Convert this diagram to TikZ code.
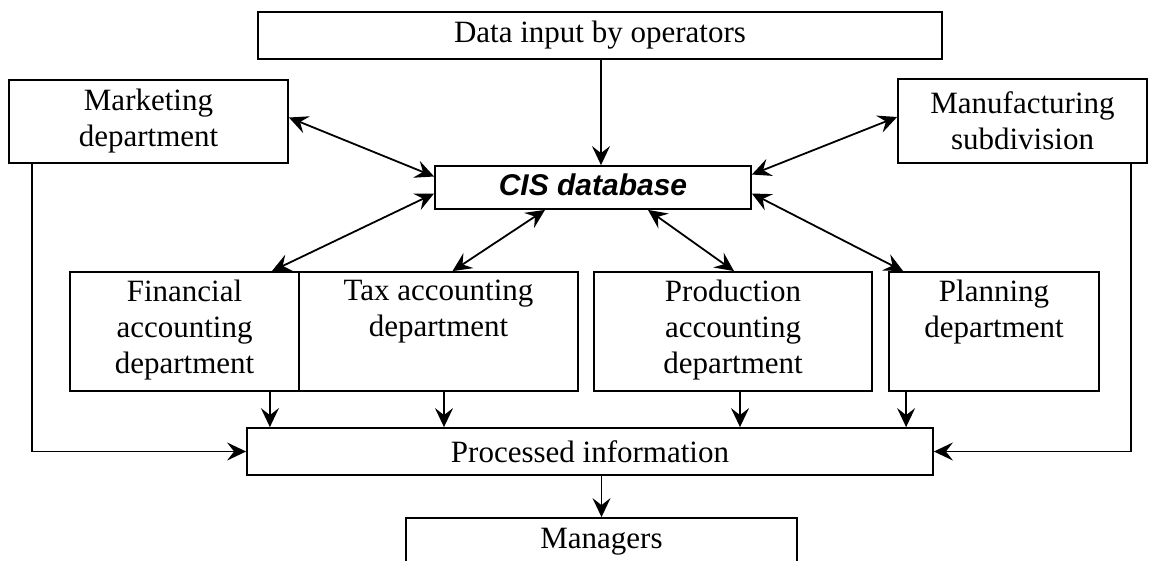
\documentclass[tikz,border=0pt]{standalone}
\usepackage{fontspec}
\setmainfont{Liberation Serif}
\newfontfamily\cisfont{Liberation Sans}
\usetikzlibrary{arrows.meta,calc}

\tikzset{
  tip/.tip={Stealth[length=19pt,width=18pt,inset=7pt]},
  box/.style={draw, line width=1.8pt, inner sep=0pt, align=center,
    font=\fontsize{31}{36}\selectfont},
  lbl/.style={anchor=north, inner sep=0pt, align=center,
    font=\fontsize{31}{36}\selectfont},
  link/.style={line width=1.8pt, -tip},
  both/.style={line width=1.8pt, tip-tip},
}

\begin{document}
\begin{tikzpicture}[x=1pt,y=-1pt]
\useasboundingbox (0,0) rectangle (1150,560);

% boxes
\node[box, minimum width=684, minimum height=47] (data) at (600,35.5) {Data input by operators};
\node[box, minimum width=279, minimum height=83] (mkt) at (148.5,121.5) {Marketing\\department};
\node[box, minimum width=249, minimum height=84] (mfg) at (1022.5,121) {Manufacturing\\subdivision};
\node[box, minimum width=316, minimum height=43, text height=22pt, text depth=6pt,
      font=\fontsize{30}{36}\cisfont\bfseries\itshape] (cis) at (593,187.5) {CIS database};
\node[box, minimum width=229, minimum height=119] (fin) at (184.5,331.5) {};
\node[box, minimum width=279, minimum height=119] (tax) at (438.5,331.5) {};
\node[box, minimum width=278, minimum height=119] (prod) at (733,331.5) {};
\node[box, minimum width=210, minimum height=119] (plan) at (994,331.5) {};
\node[box, minimum width=686, minimum height=47] (proc) at (590,451.5) {Processed information};
% the managers box runs on past the lower edge of the page
\node[box, minimum width=391, minimum height=60, text height=20pt, text depth=20pt] (mgr) at (601.5,548) {Managers};

% department labels, set from the top of their boxes
\node[lbl] (finT) at ([yshift=-9pt]fin.north) {Financial\\accounting\\department};
\node[lbl] (taxT) at ([yshift=-9pt]tax.north) {Tax accounting\\department};
\node[lbl] (prodT) at ([yshift=-9pt]prod.north) {Production\\accounting\\department};
\node[lbl] (planT) at ([yshift=-9pt]plan.north) {Planning\\department};

% input to the database
\coordinate (d1) at ([xshift=1pt]data.south);
\draw[link] (d1) -- (d1 |- cis.north);

% exchanges with the database
\draw[both] ([yshift=4pt]mkt.east) -- ([yshift=11pt]cis.west);
\draw[both] ([yshift=4pt]mfg.west) -- ([yshift=13pt]cis.east);
\draw[both] ([yshift=-6pt]cis.west) -- ([xshift=-28pt]fin.north east);
\draw[both] ([xshift=-48pt]cis.south) -- ([xshift=14pt]tax.north);
\draw[both] ([xshift=55pt]cis.south) -- ([xshift=1pt]prod.north);
\draw[both] ([yshift=-6pt]cis.east) -- ([xshift=15pt]plan.north west);

% flows into the processed information
\coordinate (f1) at ([xshift=-30pt]fin.south east);
\coordinate (f2) at ([xshift=5.5pt]tax.south);
\coordinate (f3) at ([xshift=7pt]prod.south);
\coordinate (f4) at ([xshift=18pt]plan.south west);
\draw[link] (f1) -- (f1 |- proc.north);
\draw[link] (f2) -- (f2 |- proc.north);
\draw[link] (f3) -- (f3 |- proc.north);
\draw[link] (f4) -- (f4 |- proc.north);
\draw[link] ([xshift=24pt]mkt.south west) |- (proc.west);
\draw[link] ([xshift=-17pt]mfg.south east) |- (proc.east);

% to the managers
\draw[link] (mgr.north |- proc.south) -- (mgr.north);
\end{tikzpicture}
\end{document}
